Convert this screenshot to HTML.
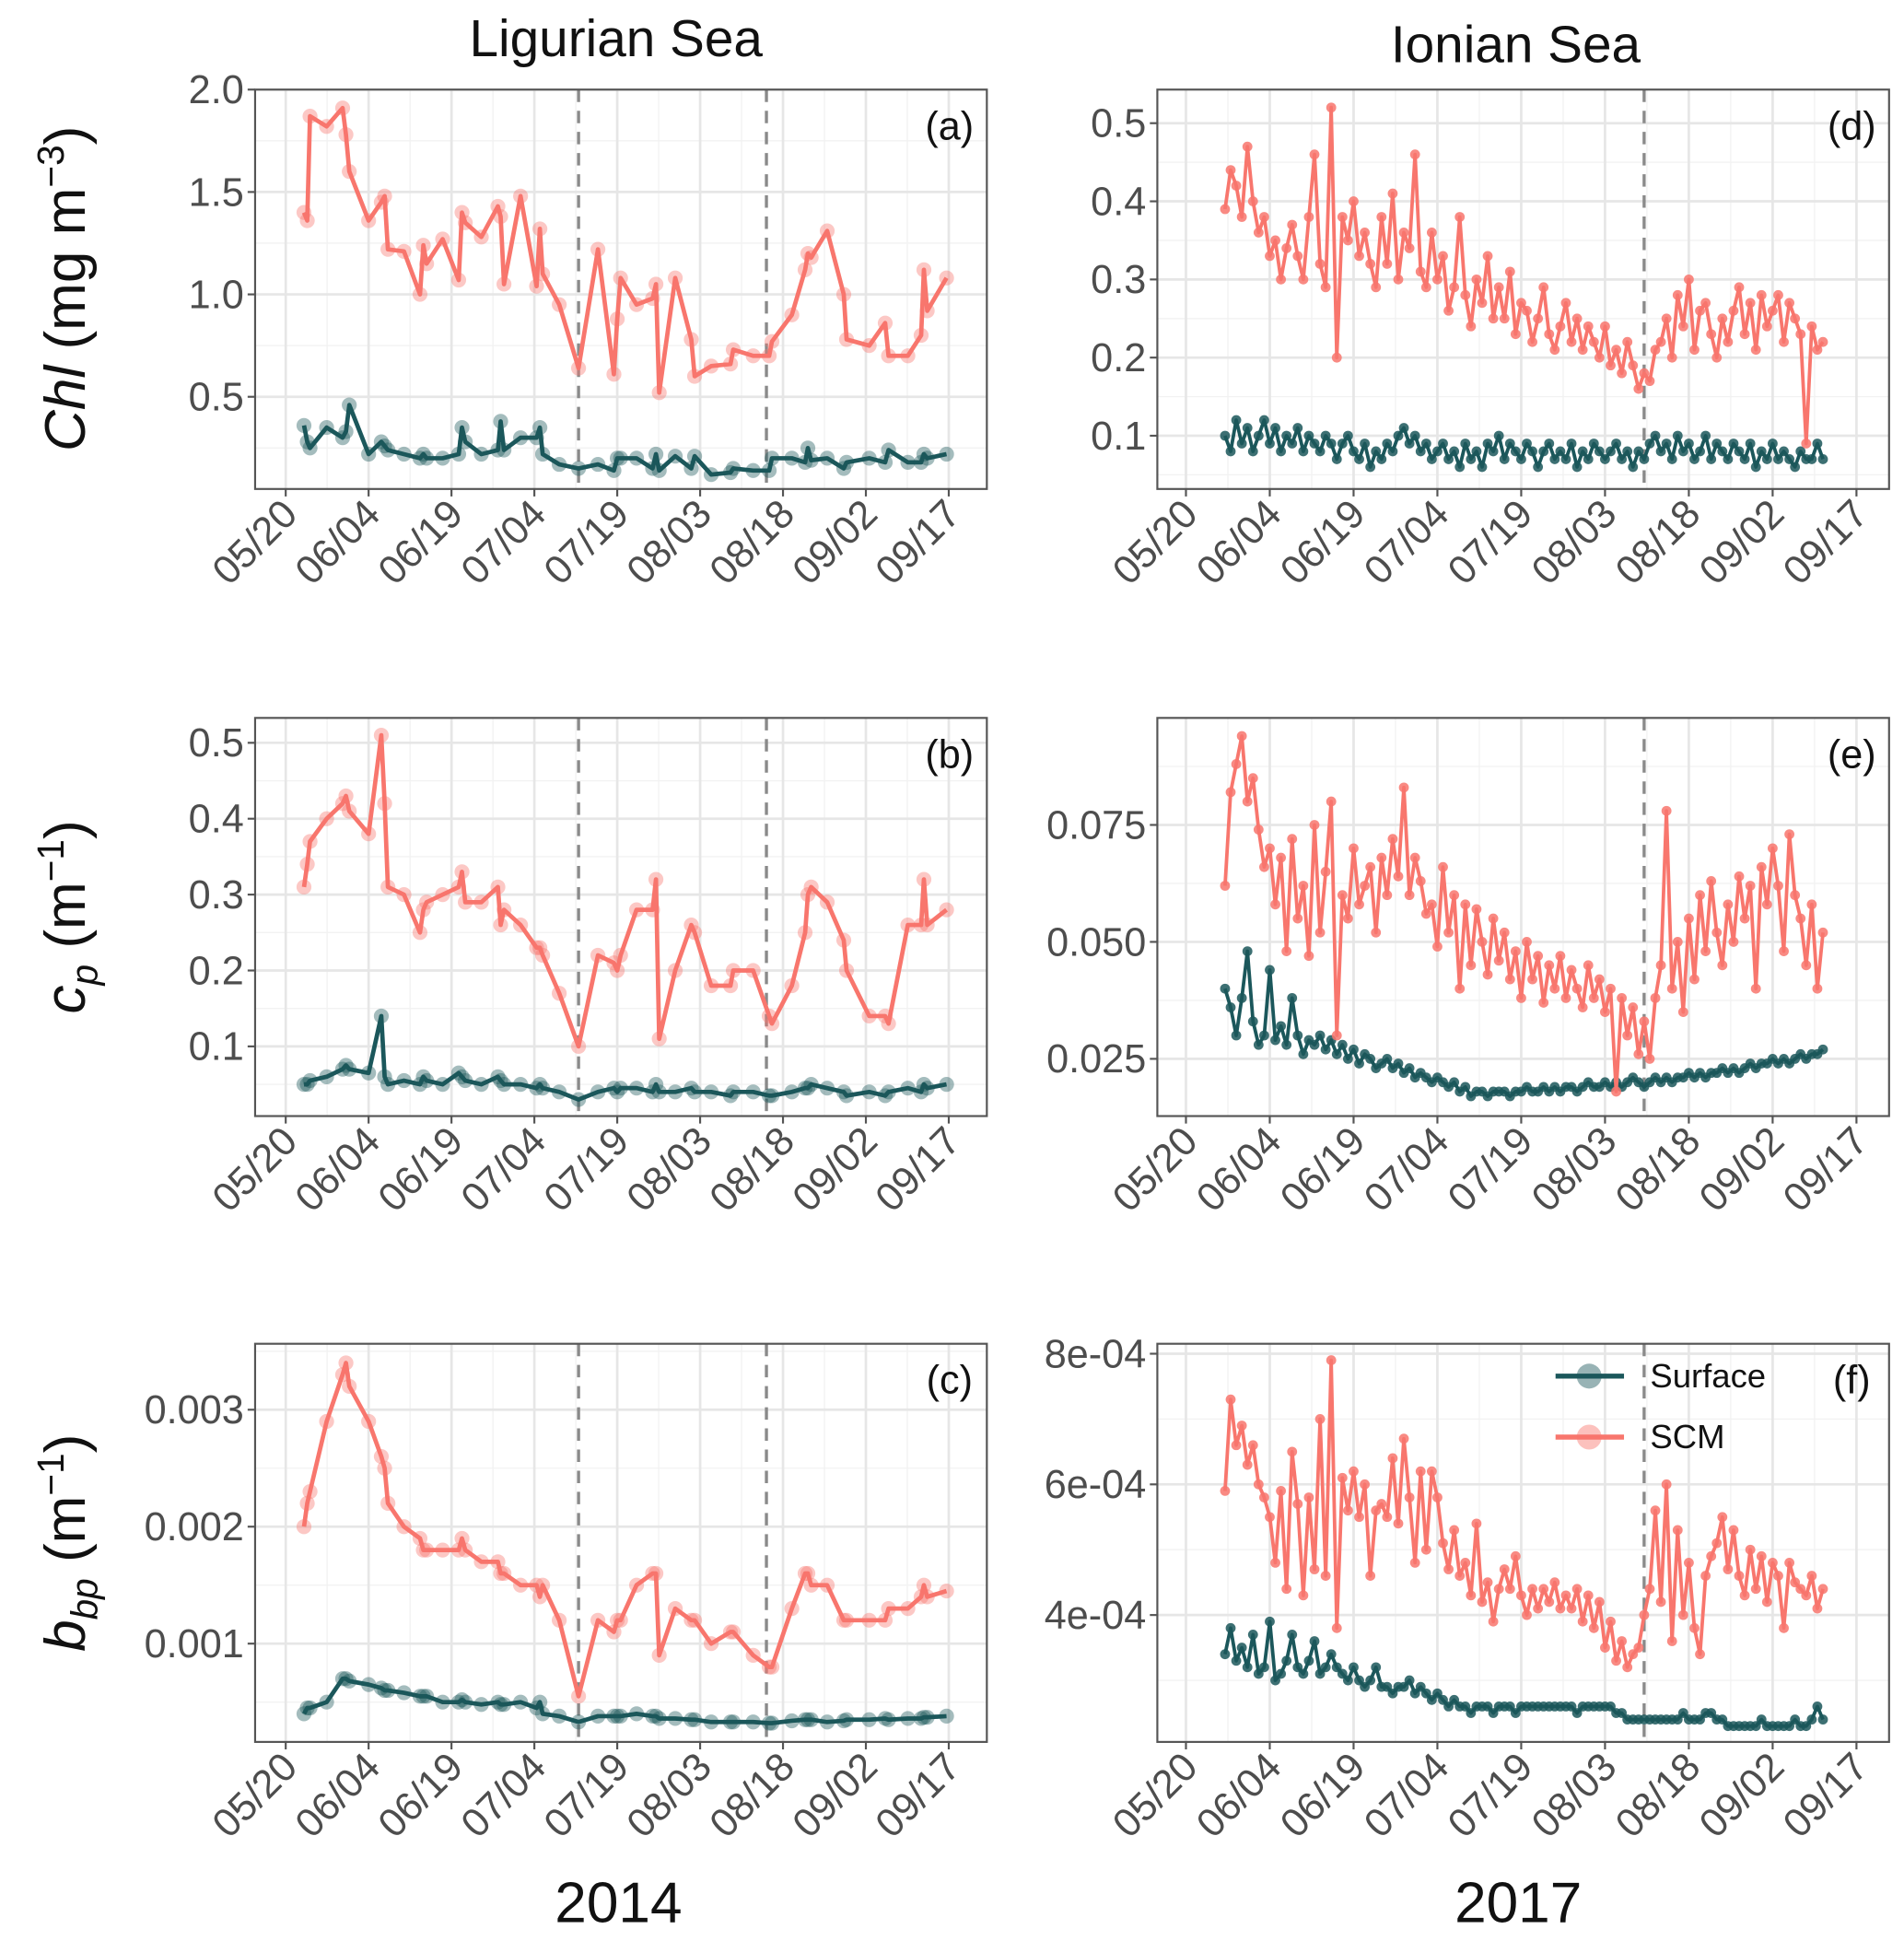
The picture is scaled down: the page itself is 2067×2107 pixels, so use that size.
<!DOCTYPE html>
<html><head><meta charset="utf-8"><style>
html,body{margin:0;padding:0;background:#fff;}
svg{display:block;font-family:"Liberation Sans",sans-serif;}
</style></head><body>
<svg id="fig" width="2067" height="2107" viewBox="0 0 1530 1560" preserveAspectRatio="none" xmlns="http://www.w3.org/2000/svg">
<rect x="0" y="0" width="1530" height="1560" fill="#fff"/>
<text x="495" y="45" font-size="42" text-anchor="middle" fill="#111">Ligurian Sea</text>
<text x="1218" y="50" font-size="42" text-anchor="middle" fill="#111">Ionian Sea</text>
<text x="497" y="1545" font-size="46" text-anchor="middle" fill="#111">2014</text>
<text x="1220" y="1545" font-size="46" text-anchor="middle" fill="#111">2017</text>
<text transform="translate(68,232) rotate(-90)" font-size="46" text-anchor="middle" fill="#111"><tspan font-style="italic">Chl</tspan> (mg m<tspan dy="-17" font-size="30">−3</tspan><tspan dy="17">)</tspan></text>
<text transform="translate(68,737) rotate(-90)" font-size="46" text-anchor="middle" fill="#111"><tspan font-style="italic">c</tspan><tspan font-style="italic" font-size="30" dy="10">p</tspan><tspan dy="-10"> (m</tspan><tspan dy="-17" font-size="30">−1</tspan><tspan dy="17">)</tspan></text>
<text transform="translate(68,1240) rotate(-90)" font-size="46" text-anchor="middle" fill="#111"><tspan font-style="italic">b</tspan><tspan font-style="italic" font-size="30" dy="10">bp</tspan><tspan dy="-10"> (m</tspan><tspan dy="-17" font-size="30">−1</tspan><tspan dy="17">)</tspan></text>
</svg>
<script>
const daysL = [3.3,3.9,4.4,7.4,10.3,10.9,11.5,15,17.3,17.9,18.5,21.4,24.3,24.9,25.5,28.4,31.3,31.9,32.5,35.4,38.4,38.9,39.5,42.5,45.4,46,46.5,49.5,53,56.5,59.4,60,60.6,63.5,66.4,67,67.6,70.5,73.4,74,77,80.5,81,84.6,87.5,88,91.6,94,94.5,95.1,98,101,101.5,105.6,108.5,109.1,112.6,115,115.5,116.1,119.6];
const aScm = [1.40,1.36,1.87,1.82,1.91,1.78,1.60,1.36,1.45,1.48,1.22,1.21,1.00,1.24,1.15,1.27,1.07,1.40,1.35,1.28,1.43,1.38,1.05,1.48,1.04,1.32,1.10,0.95,0.64,1.22,0.61,0.88,1.08,0.95,0.98,1.05,0.52,1.08,0.78,0.60,0.65,0.66,0.73,0.70,0.70,0.77,0.90,1.12,1.20,1.18,1.31,1.00,0.78,0.75,0.86,0.70,0.70,0.80,1.12,0.92,1.08];
const aSurf = [0.36,0.28,0.25,0.35,0.30,0.33,0.46,0.22,0.28,0.26,0.24,0.22,0.20,0.22,0.20,0.20,0.22,0.35,0.28,0.22,0.24,0.38,0.24,0.30,0.30,0.35,0.22,0.17,0.15,0.17,0.14,0.20,0.20,0.20,0.15,0.22,0.14,0.21,0.15,0.21,0.12,0.13,0.15,0.14,0.14,0.20,0.20,0.18,0.25,0.19,0.20,0.15,0.18,0.20,0.18,0.24,0.18,0.18,0.22,0.20,0.22];
const bScm = [0.31,0.34,0.37,0.40,0.42,0.43,0.41,0.38,0.51,0.42,0.31,0.30,0.25,0.28,0.29,0.30,0.31,0.33,0.29,0.29,0.31,0.26,0.28,0.26,0.23,0.23,0.22,0.17,0.10,0.22,0.21,0.20,0.22,0.28,0.28,0.32,0.11,0.20,0.26,0.25,0.18,0.18,0.20,0.20,0.14,0.13,0.18,0.25,0.30,0.31,0.29,0.24,0.20,0.14,0.14,0.13,0.26,0.26,0.32,0.26,0.28];
const bSurf = [0.050,0.050,0.055,0.060,0.070,0.075,0.070,0.065,0.140,0.060,0.050,0.055,0.050,0.060,0.055,0.050,0.065,0.060,0.055,0.050,0.060,0.055,0.050,0.050,0.045,0.050,0.045,0.040,0.030,0.040,0.045,0.040,0.045,0.045,0.040,0.050,0.040,0.040,0.045,0.040,0.040,0.035,0.040,0.040,0.035,0.035,0.040,0.045,0.045,0.050,0.045,0.040,0.035,0.040,0.035,0.040,0.045,0.040,0.050,0.045,0.050];
const cScm = [0.0020,0.0022,0.0023,0.0029,0.0033,0.0034,0.0032,0.0029,0.0026,0.0025,0.0022,0.0020,0.0019,0.0018,0.0018,0.0018,0.0018,0.0019,0.0018,0.0017,0.0017,0.0016,0.0016,0.0015,0.0015,0.0014,0.0015,0.0012,0.00055,0.0012,0.0011,0.0012,0.0012,0.0015,0.0016,0.0016,0.0009,0.0013,0.0012,0.0012,0.0010,0.0011,0.0011,0.0009,0.0008,0.0008,0.0013,0.0016,0.0016,0.0015,0.0015,0.0012,0.0012,0.0012,0.0012,0.0013,0.0013,0.0014,0.0015,0.0014,0.00145];
const cSurf = [0.0004,0.00045,0.00045,0.0005,0.0007,0.0007,0.00068,0.00065,0.00062,0.0006,0.0006,0.00058,0.00055,0.00055,0.00055,0.0005,0.0005,0.00052,0.0005,0.00048,0.0005,0.00048,0.00048,0.0005,0.00045,0.0005,0.0004,0.00038,0.00033,0.00038,0.00038,0.00038,0.00038,0.0004,0.00038,0.00038,0.00036,0.00036,0.00035,0.00035,0.00033,0.00033,0.00033,0.00033,0.00032,0.00032,0.00034,0.00035,0.00035,0.00035,0.00033,0.00034,0.00035,0.00035,0.00036,0.00035,0.00036,0.00036,0.00037,0.00037,0.00038];
const daysR = [7,8,9,10,11,12,13,14,15,16,17,18,19,20,21,22,23,24,25,26,27,28,29,30,31,32,33,34,35,36,37,38,39,40,41,42,43,44,45,46,47,48,49,50,51,52,53,54,55,56,57,58,59,60,61,62,63,64,65,66,67,68,69,70,71,72,73,74,75,76,77,78,79,80,81,82,83,84,85,86,87,88,89,90,91,92,93,94,95,96,97,98,99,100,101,102,103,104,105,106,107,108,109,110,111,112,113,114];
const dScm = [0.39,0.44,0.42,0.38,0.47,0.40,0.36,0.38,0.33,0.35,0.30,0.34,0.37,0.33,0.30,0.38,0.46,0.32,0.29,0.52,0.20,0.38,0.35,0.40,0.33,0.36,0.32,0.29,0.38,0.32,0.41,0.30,0.36,0.34,0.46,0.31,0.29,0.36,0.30,0.33,0.26,0.29,0.38,0.28,0.24,0.30,0.27,0.33,0.25,0.29,0.25,0.31,0.23,0.27,0.26,0.22,0.25,0.29,0.23,0.21,0.24,0.27,0.22,0.25,0.21,0.24,0.22,0.20,0.24,0.19,0.21,0.18,0.22,0.19,0.16,0.18,0.17,0.21,0.22,0.25,0.20,0.28,0.24,0.30,0.21,0.26,0.27,0.23,0.20,0.25,0.22,0.26,0.29,0.23,0.27,0.21,0.28,0.24,0.26,0.28,0.22,0.27,0.25,0.23,0.09,0.24,0.21,0.22];
const dSurf = [0.10,0.08,0.12,0.09,0.11,0.08,0.10,0.12,0.09,0.11,0.08,0.10,0.09,0.11,0.08,0.10,0.09,0.08,0.10,0.09,0.07,0.09,0.10,0.08,0.07,0.09,0.06,0.08,0.07,0.09,0.08,0.10,0.11,0.09,0.10,0.08,0.09,0.07,0.08,0.09,0.07,0.08,0.06,0.09,0.07,0.08,0.06,0.09,0.08,0.10,0.07,0.09,0.08,0.07,0.09,0.08,0.06,0.08,0.09,0.07,0.08,0.07,0.09,0.06,0.08,0.07,0.09,0.08,0.07,0.08,0.09,0.07,0.08,0.06,0.08,0.07,0.09,0.10,0.08,0.09,0.07,0.10,0.08,0.09,0.07,0.08,0.10,0.07,0.09,0.08,0.07,0.09,0.08,0.07,0.09,0.06,0.08,0.07,0.09,0.07,0.08,0.07,0.06,0.08,0.07,0.07,0.09,0.07];
const eScm = [0.062,0.082,0.088,0.094,0.080,0.085,0.074,0.066,0.070,0.058,0.068,0.048,0.072,0.055,0.062,0.047,0.075,0.052,0.065,0.080,0.030,0.060,0.055,0.070,0.058,0.062,0.066,0.052,0.068,0.060,0.072,0.064,0.083,0.060,0.068,0.063,0.056,0.058,0.049,0.066,0.052,0.060,0.040,0.058,0.045,0.057,0.050,0.043,0.055,0.046,0.052,0.042,0.048,0.038,0.050,0.042,0.047,0.037,0.045,0.040,0.047,0.038,0.044,0.040,0.036,0.045,0.038,0.042,0.035,0.040,0.018,0.038,0.030,0.036,0.026,0.033,0.025,0.038,0.045,0.078,0.040,0.050,0.035,0.055,0.042,0.060,0.048,0.063,0.052,0.045,0.058,0.050,0.064,0.055,0.062,0.040,0.066,0.058,0.070,0.062,0.048,0.073,0.060,0.055,0.045,0.058,0.040,0.052];
const eSurf = [0.040,0.036,0.030,0.038,0.048,0.033,0.028,0.030,0.044,0.029,0.032,0.028,0.038,0.030,0.026,0.029,0.028,0.030,0.027,0.029,0.026,0.028,0.025,0.027,0.024,0.026,0.025,0.023,0.024,0.025,0.023,0.024,0.022,0.023,0.021,0.022,0.021,0.020,0.021,0.020,0.019,0.020,0.018,0.019,0.017,0.018,0.018,0.017,0.018,0.018,0.018,0.017,0.018,0.018,0.019,0.018,0.018,0.019,0.018,0.019,0.018,0.019,0.019,0.018,0.019,0.020,0.019,0.019,0.020,0.019,0.020,0.019,0.020,0.021,0.020,0.019,0.020,0.021,0.020,0.021,0.020,0.021,0.021,0.022,0.021,0.022,0.021,0.022,0.022,0.023,0.022,0.023,0.022,0.023,0.024,0.023,0.024,0.024,0.025,0.024,0.025,0.024,0.025,0.026,0.025,0.026,0.026,0.027];
const fScmE4 = [5.9,7.3,6.6,6.9,6.3,6.6,6.0,5.8,5.5,4.8,5.9,4.4,6.5,5.7,4.3,5.8,4.7,7.0,4.6,7.9,3.8,6.1,5.6,6.2,5.5,6.0,4.6,5.6,5.7,5.5,6.4,5.4,6.7,5.8,4.8,6.2,5.0,6.2,5.8,5.1,4.7,5.3,4.6,4.8,4.3,5.4,4.2,4.5,3.9,4.4,4.7,4.4,4.9,4.3,4.0,4.4,4.1,4.4,4.2,4.5,4.1,4.3,4.1,4.4,3.9,4.3,3.8,4.2,3.5,3.9,3.3,3.6,3.2,3.4,3.5,4.0,4.4,5.6,4.2,6.0,3.6,5.3,4.0,4.8,3.8,3.4,4.6,4.9,5.1,5.5,4.7,5.3,4.6,4.3,5.0,4.4,4.9,4.2,4.8,4.6,3.8,4.8,4.5,4.4,4.3,4.6,4.1,4.4];
const fSurfE4 = [3.4,3.8,3.3,3.5,3.2,3.7,3.1,3.2,3.9,3.0,3.1,3.3,3.7,3.2,3.1,3.3,3.6,3.1,3.2,3.4,3.2,3.1,3.0,3.2,3.0,2.9,3.0,3.2,2.9,2.9,2.8,2.9,2.9,3.0,2.8,2.9,2.8,2.7,2.8,2.7,2.6,2.7,2.6,2.6,2.5,2.6,2.6,2.6,2.5,2.6,2.6,2.6,2.5,2.6,2.6,2.6,2.6,2.6,2.6,2.6,2.6,2.6,2.6,2.5,2.6,2.6,2.6,2.6,2.6,2.6,2.5,2.5,2.4,2.4,2.4,2.4,2.4,2.4,2.4,2.4,2.4,2.4,2.5,2.4,2.4,2.4,2.5,2.5,2.4,2.4,2.3,2.3,2.3,2.3,2.3,2.3,2.4,2.3,2.3,2.3,2.3,2.3,2.4,2.3,2.3,2.4,2.6,2.4];
const xTickDays = [0,15,30,45,60,75,90,105,120];
const xTickLabels = ["05/20","06/04","06/19","07/04","07/19","08/03","08/18","09/02","09/17"];

const NS = "http://www.w3.org/2000/svg";
const svg = document.getElementById("fig");
function mk(tag, attrs, parent) {
  const e = document.createElementNS(NS, tag);
  for (const k in attrs) e.setAttribute(k, attrs[k]);
  (parent || svg).appendChild(e);
  return e;
}
const xL = d => 229.6 + d * 4.44;
const xR = d => 953 + d * 4.49;
const panels = [
  {id:"a", x0:205, x1:793, y0:72, y1:393, xs:xL, ys:v => 72 + (2.0 - v) * 164.6, ticks:[0.5,1.0,1.5,2.0], labels:["0.5","1.0","1.5","2.0"], minor:[0.25,0.75,1.25,1.75], days:daysL, scm:aScm, surf:aSurf, dash:[53,87], big:true},
  {id:"b", x0:205, x1:793, y0:577, y1:897, xs:xL, ys:v => 597 + (0.5 - v) * 610, ticks:[0.1,0.2,0.3,0.4,0.5], labels:["0.1","0.2","0.3","0.4","0.5"], minor:[0.05,0.15,0.25,0.35,0.45], days:daysL, scm:bScm, surf:bSurf, dash:[53,87], big:true},
  {id:"c", x0:205, x1:793, y0:1080, y1:1400, xs:xL, ys:v => 1133 + (0.003 - v) * 94000, ticks:[0.001,0.002,0.003], labels:["0.001","0.002","0.003"], minor:[0.0005,0.0015,0.0025,0.0035], days:daysL, scm:cScm, surf:cSurf, dash:[53,87], big:true},
  {id:"d", x0:930, x1:1518, y0:72, y1:393, xs:xR, ys:v => 99 + (0.5 - v) * 628, ticks:[0.1,0.2,0.3,0.4,0.5], labels:["0.1","0.2","0.3","0.4","0.5"], minor:[0.05,0.15,0.25,0.35,0.45], days:daysR, scm:dScm, surf:dSurf, dash:[82], big:false},
  {id:"e", x0:930, x1:1518, y0:577, y1:897, xs:xR, ys:v => 663 + (0.075 - v) * 3760, ticks:[0.025,0.05,0.075], labels:["0.025","0.050","0.075"], minor:[0.0375,0.0625,0.0875], days:daysR, scm:eScm, surf:eSurf, dash:[82], big:false},
  {id:"f", x0:930, x1:1518, y0:1080, y1:1400, xs:xR, ys:v => 1088 + (8 - v) * 52.5, ticks:[4,6,8], labels:["4e-04","6e-04","8e-04"], minor:[3,5,7], days:daysR, scm:fScmE4, surf:fSurfE4, dash:[82], big:false}
];
const SCM = "#F8766D", SURF = "#1B575B";
panels.forEach(p => {
  const g = mk("g", {});
  
  
  const clipId = "clip-" + p.id;
  const cp = mk("clipPath", {id: clipId}, g);
  mk("rect", {x:p.x0, y:p.y0, width:p.x1 - p.x0, height:p.y1 - p.y0}, cp);
  mk("rect", {x:p.x0, y:p.y0, width:p.x1 - p.x0, height:p.y1 - p.y0, fill:"#fff"}, g);
  const grid = mk("g", {"clip-path":"url(#" + clipId + ")"}, g);
  
  
  p.minor.forEach(v => { const y = p.ys(v); mk("line", {x1:p.x0, x2:p.x1, y1:y, y2:y, stroke:"#f2f2f2", "stroke-width":1}, grid); });
  xTickDays.forEach(d => { const x = p.xs(d + 7.5); mk("line", {x1:x, x2:x, y1:p.y0, y2:p.y1, stroke:"#f2f2f2", "stroke-width":1}, grid); });
  const xm = p.xs(-7.5); mk("line", {x1:xm, x2:xm, y1:p.y0, y2:p.y1, stroke:"#f2f2f2", "stroke-width":1}, grid);
  p.ticks.forEach(v => { const y = p.ys(v); mk("line", {x1:p.x0, x2:p.x1, y1:y, y2:y, stroke:"#e6e6e6", "stroke-width":2}, grid); });
  xTickDays.forEach(d => { const x = p.xs(d); mk("line", {x1:x, x2:x, y1:p.y0, y2:p.y1, stroke:"#e6e6e6", "stroke-width":2}, grid); });
  p.dash.forEach(d => {
    const x = p.xs(d);
    const dl = mk("line", {x1:x, x2:x, y1:p.y0, y2:p.y1, stroke:"#8a8a8a", "stroke-width":2.5, "stroke-dasharray":"10,7"}, grid);
    
    
  });
  const r = p.big ? 6 : 4;
  const lw = p.big ? 3.5 : 2.8;
  [[p.surf, SURF, "surface"], [p.scm, SCM, "scm"]].forEach(([vals, col, nm]) => {
    const sg = mk("g", {"clip-path":"url(#" + clipId + ")"}, g);
    
    
    const pts = vals.map((v, i) => p.xs(p.days[i]).toFixed(1) + "," + p.ys(v).toFixed(1)).join(" ");
    const pl = mk("polyline", {points:pts, fill:"none", stroke:col, "stroke-width":lw, "stroke-linejoin":"round"}, sg);
    
    
    vals.forEach((v, i) => {
      const c = mk("circle", {cx:p.xs(p.days[i]), cy:p.ys(v), r:r, fill:col, "fill-opacity":p.big ? 0.4 : 0.85, stroke:"none"}, sg);
      
      
    });
  });
  const border = mk("rect", {x:p.x0, y:p.y0, width:p.x1 - p.x0, height:p.y1 - p.y0, fill:"none", stroke:"#555", "stroke-width":1.6}, g);
  
  
  p.ticks.forEach((v, i) => {
    const y = p.ys(v);
    mk("line", {x1:p.x0 - 6, x2:p.x0, y1:y, y2:y, stroke:"#555", "stroke-width":1.6}, g);
    const t = mk("text", {x:p.x0 - 9, y:y + 11, "font-size":32, "text-anchor":"end", fill:"#4d4d4d"}, g);
    t.textContent = p.labels[i];
    
    
  });
  xTickDays.forEach((d, i) => {
    const x = p.xs(d);
    mk("line", {x1:x, x2:x, y1:p.y1, y2:p.y1 + 6, stroke:"#555", "stroke-width":1.6}, g);
    const t = mk("text", {transform:"translate(" + (x + 11) + "," + (p.y1 + 22) + ") rotate(-45)", "font-size":32, "text-anchor":"end", fill:"#4d4d4d"}, g);
    t.textContent = xTickLabels[i];
    
    
  });
  const lab = mk("text", {x:p.x1 - 30, y:p.y0 + 40, "font-size":32, "text-anchor":"middle", fill:"#111"}, g);
  lab.textContent = "(" + p.id + ")";
  
  
});
const lg = mk("g", {});


[[SURF, "Surface", 1106], [SCM, "SCM", 1155]].forEach(([col, txt, y]) => {
  const e = mk("g", {}, lg);
  
  
  mk("line", {x1:1250, x2:1305, y1:y, y2:y, stroke:col, "stroke-width":4}, e);
  mk("circle", {cx:1277, cy:y, r:10, fill:col, "fill-opacity":0.45}, e);
  const t = mk("text", {x:1326, y:y + 9, "font-size":27, fill:"#111"}, e);
  t.textContent = txt;
});
</script>
</body></html>
